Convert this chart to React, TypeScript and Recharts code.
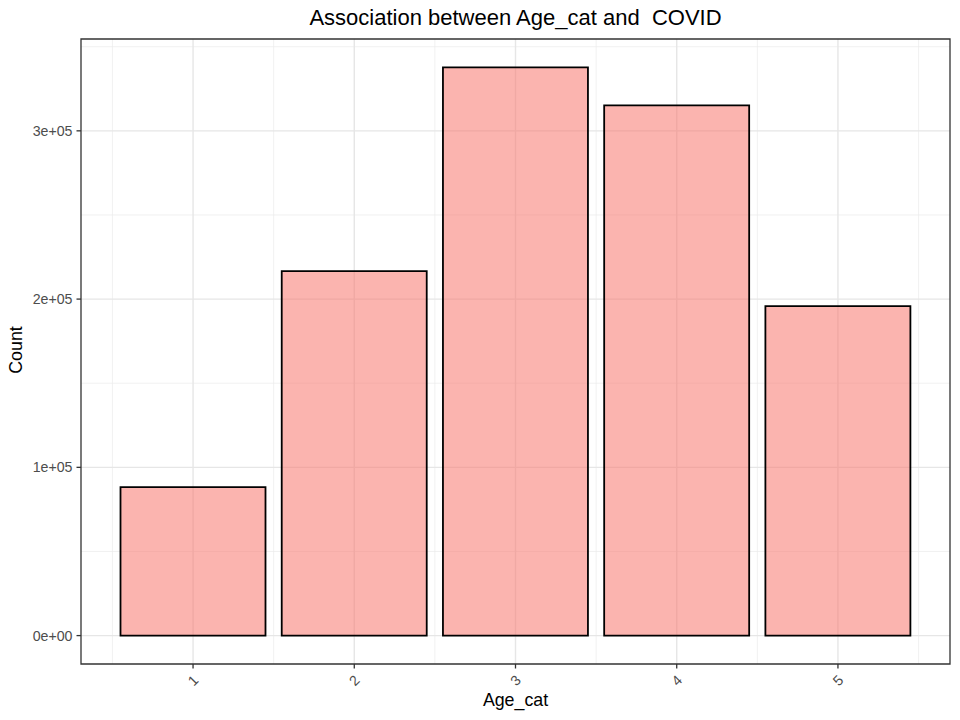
import React from "react";
import {
  BarChart,
  Bar,
  XAxis,
  YAxis,
  CartesianGrid,
  ReferenceArea,
} from "recharts";

const categories = [1, 2, 3, 4, 5];
const counts = [88300, 216600, 337700, 315100, 195800];
const yTicks = [0, 100000, 200000, 300000];
const yMinor = [50000, 150000, 250000, 350000];
const xMinor = [0.5, 1.5, 2.5, 3.5, 4.5, 5.5];
const yTickLabels = ["0e+00", "1e+05", "2e+05", "3e+05"];

const data = categories.map((c, i) => ({ cat: c, count: counts[i] }));

const maxCount = Math.max(...counts);
const yDomain: [number, number] = [-0.05 * maxCount, 1.05 * maxCount];
// bars span [0.55, 5.45]; continuous expansion 5%
const xLo = categories[0] - 0.45;
const xHi = categories[categories.length - 1] + 0.45;
const xPad = (xHi - xLo) * 0.05;
const xDomain: [number, number] = [xLo - xPad, xHi + xPad];

const FONT = "'Liberation Sans', Arial, Helvetica, sans-serif";

const XTick = (props: any) => {
  const { x, y, payload } = props;
  const cy = y + 10;
  return (
    <text
      x={x}
      y={cy}
      transform={`rotate(-45 ${x} ${cy})`}
      textAnchor="middle"
      dominantBaseline="central"
      fontSize={14.2}
      fill="#4D4D4D"
      fontFamily={FONT}
    >
      {payload.value}
    </text>
  );
};

export default function App() {
  return (
    <div
      style={{
        position: "absolute",
        left: 0,
        top: 0,
        width: 960,
        height: 720,
        background: "#fff",
        fontFamily: FONT,
      }}
    >
      <BarChart
        width={960}
        height={720}
        data={data}
        margin={{ top: 39, right: 10, bottom: 0, left: 0 }}
        barCategoryGap="5%"
      >
        <CartesianGrid
          stroke="#EBEBEB"
          strokeWidth={0.7}
          horizontalValues={yMinor}
          verticalValues={xMinor}
        />
        <CartesianGrid
          stroke="#E6E6E6"
          strokeWidth={1.4}
          horizontalValues={yTicks}
          verticalValues={categories}
        />
        <XAxis
          dataKey="cat"
          type="number"
          domain={xDomain}
          ticks={categories}
          allowDataOverflow
          height={56}
          tickSize={4.5}
          tickMargin={2}
          tickLine={{ stroke: "#333333", strokeWidth: 1.3 }}
          axisLine={false}
          tick={<XTick />}
          interval={0}
        />
        <YAxis
          type="number"
          domain={yDomain}
          ticks={yTicks}
          allowDataOverflow
          width={81}
          tickSize={4.5}
          tickMargin={4}
          tickLine={{ stroke: "#333333", strokeWidth: 1.3 }}
          axisLine={false}
          tickFormatter={(v: number) => yTickLabels[yTicks.indexOf(v)] ?? String(v)}
          tick={{ fontSize: 14.2, fill: "#4D4D4D", fontFamily: FONT }}
          interval={0}
        />
        <Bar
          dataKey="count"
          fill="#F8766D"
          fillOpacity={0.55}
          stroke="#000000"
          strokeWidth={1.8}
          isAnimationActive={false}
        />
        <ReferenceArea
          x1={xDomain[0]}
          x2={xDomain[1]}
          y1={yDomain[0]}
          y2={yDomain[1]}
          fill="none"
          fillOpacity={0}
          stroke="#333333"
          strokeWidth={1.3}
          ifOverflow="visible"
        />
      </BarChart>
      <div
        style={{
          position: "absolute",
          left: 81,
          width: 869,
          top: 4,
          textAlign: "center",
          fontSize: 22,
          whiteSpace: "pre",
          color: "#000",
          lineHeight: "28px",
        }}
      >
        {"Association between Age_cat and  COVID"}
      </div>
      <div
        style={{
          position: "absolute",
          left: 81,
          width: 869,
          top: 688,
          textAlign: "center",
          fontSize: 17.8,
          color: "#000",
          lineHeight: "24px",
        }}
      >
        Age_cat
      </div>
      <div
        style={{
          position: "absolute",
          left: 16 - 100,
          top: 350 - 12,
          width: 200,
          height: 24,
          textAlign: "center",
          fontSize: 17.8,
          color: "#000",
          lineHeight: "24px",
          transform: "rotate(-90deg)",
        }}
      >
        Count
      </div>
    </div>
  );
}
